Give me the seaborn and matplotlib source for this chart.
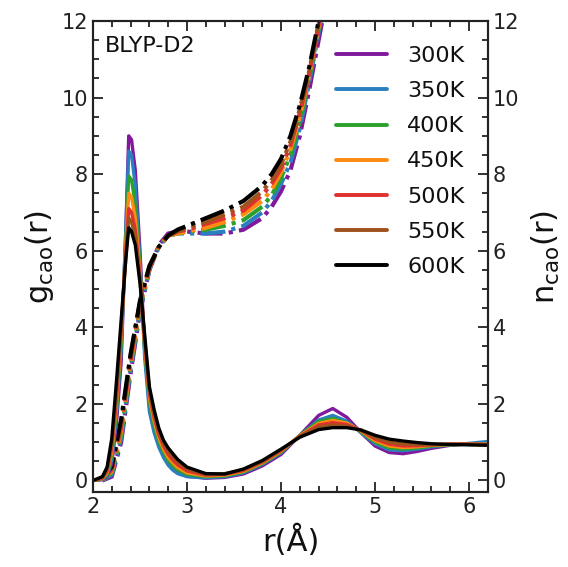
import numpy as np
import pandas as pd
import matplotlib
matplotlib.use("Agg")
import matplotlib.pyplot as plt
from matplotlib.ticker import MultipleLocator
import seaborn as sns

temps = ["300K", "350K", "400K", "450K", "500K", "550K", "600K"]
colors = ["#80199b", "#2a7fc0", "#2ca02c", "#ff8c10", "#e03030", "#a0521d", "#000000"]

r_g = [2.00, 2.10, 2.15, 2.20, 2.25, 2.30, 2.35, 2.38, 2.41, 2.45, 2.50, 2.55, 2.60,
       2.65, 2.70, 2.75, 2.80, 2.85, 2.90, 3.00, 3.20, 3.40, 3.60, 3.80, 4.00, 4.20,
       4.40, 4.55, 4.70, 4.85, 5.00, 5.15, 5.30, 5.45, 5.60, 5.80, 6.00, 6.20]

g_300 = [0.00, 0.02, 0.10, 0.45, 1.50, 3.10, 6.60, 9.00, 8.90, 8.10, 6.00, 3.40, 1.95,
         1.35, 0.97, 0.68, 0.46, 0.31, 0.21, 0.11, 0.06, 0.08, 0.17, 0.38, 0.68, 1.18,
         1.70, 1.88, 1.65, 1.25, 0.90, 0.73, 0.70, 0.76, 0.84, 0.92, 0.96, 0.96]
g_350 = [0.00, 0.03, 0.13, 0.55, 1.70, 3.40, 6.60, 8.60, 8.50, 7.70, 5.70, 3.20, 1.80,
         1.25, 0.87, 0.60, 0.40, 0.27, 0.18, 0.10, 0.07, 0.10, 0.20, 0.42, 0.72, 1.18,
         1.58, 1.70, 1.55, 1.25, 0.96, 0.80, 0.78, 0.82, 0.88, 0.93, 0.97, 1.02]
g_400 = [0.00, 0.04, 0.16, 0.65, 1.85, 3.60, 6.30, 7.95, 7.85, 7.20, 5.60, 3.40, 2.05,
         1.45, 1.02, 0.74, 0.52, 0.38, 0.28, 0.16, 0.10, 0.12, 0.22, 0.44, 0.74, 1.18,
         1.54, 1.62, 1.50, 1.27, 1.00, 0.85, 0.82, 0.85, 0.90, 0.93, 0.95, 0.95]
g_450 = [0.00, 0.05, 0.20, 0.75, 2.00, 3.80, 6.20, 7.50, 7.40, 6.85, 5.45, 3.50, 2.15,
         1.55, 1.12, 0.82, 0.60, 0.46, 0.34, 0.20, 0.12, 0.14, 0.24, 0.46, 0.76, 1.17,
         1.49, 1.57, 1.50, 1.29, 1.04, 0.90, 0.86, 0.88, 0.92, 0.94, 0.95, 0.95]
g_500 = [0.00, 0.06, 0.24, 0.85, 2.15, 3.90, 6.00, 7.10, 7.00, 6.55, 5.35, 3.60, 2.25,
         1.65, 1.20, 0.90, 0.68, 0.53, 0.41, 0.25, 0.14, 0.16, 0.26, 0.48, 0.78, 1.16,
         1.45, 1.51, 1.46, 1.31, 1.08, 0.95, 0.90, 0.91, 0.93, 0.95, 0.95, 0.94]
g_550 = [0.00, 0.08, 0.28, 0.95, 2.30, 4.00, 5.85, 6.85, 6.75, 6.35, 5.25, 3.70, 2.35,
         1.75, 1.29, 0.98, 0.77, 0.62, 0.48, 0.30, 0.16, 0.18, 0.28, 0.50, 0.80, 1.15,
         1.40, 1.45, 1.42, 1.31, 1.12, 1.00, 0.95, 0.94, 0.94, 0.95, 0.94, 0.93]
g_600 = [0.00, 0.10, 0.35, 1.10, 2.60, 4.20, 5.80, 6.60, 6.50, 6.15, 5.15, 3.80, 2.45,
         1.85, 1.37, 1.05, 0.85, 0.70, 0.55, 0.35, 0.18, 0.17, 0.30, 0.52, 0.82, 1.13,
         1.33, 1.38, 1.38, 1.32, 1.18, 1.08, 1.03, 0.99, 0.96, 0.94, 0.93, 0.92]

r_n = [2.10, 2.20, 2.30, 2.40, 2.50, 2.60, 2.70, 2.80, 2.90, 3.00, 3.20, 3.40, 3.60,
       3.80, 3.90, 4.00, 4.10, 4.20, 4.30, 4.40, 4.50]

n_300 = [0.00, 0.10, 1.00, 2.80, 4.40, 5.50, 6.15, 6.45, 6.50, 6.50, 6.45, 6.45, 6.55,
         6.85, 7.15, 7.55, 8.10, 9.00, 10.20, 11.50, 12.80]
n_350 = [0.00, 0.15, 1.10, 2.90, 4.45, 5.50, 6.10, 6.40, 6.45, 6.45, 6.45, 6.50, 6.65,
         7.00, 7.30, 7.75, 8.30, 9.20, 10.40, 11.70, 13.00]
n_400 = [0.01, 0.20, 1.20, 3.00, 4.50, 5.55, 6.10, 6.40, 6.45, 6.50, 6.55, 6.65, 6.80,
         7.15, 7.45, 7.90, 8.50, 9.35, 10.50, 11.80, 13.00]
n_450 = [0.02, 0.24, 1.30, 3.05, 4.55, 5.55, 6.10, 6.40, 6.45, 6.50, 6.60, 6.75, 6.95,
         7.30, 7.60, 8.05, 8.65, 9.50, 10.60, 11.85, 13.10]
n_500 = [0.03, 0.28, 1.40, 3.15, 4.60, 5.55, 6.10, 6.40, 6.50, 6.55, 6.70, 6.85, 7.05,
         7.45, 7.75, 8.15, 8.75, 9.60, 10.65, 11.90, 13.10]
n_550 = [0.04, 0.32, 1.50, 3.25, 4.65, 5.60, 6.10, 6.40, 6.50, 6.60, 6.75, 6.95, 7.15,
         7.55, 7.85, 8.25, 8.85, 9.70, 10.70, 11.95, 13.20]
n_600 = [0.05, 0.36, 1.60, 3.30, 4.70, 5.60, 6.10, 6.40, 6.55, 6.65, 6.85, 7.05, 7.30,
         7.70, 8.00, 8.40, 9.00, 9.80, 10.80, 12.00, 13.20]

g_all = [g_300, g_350, g_400, g_450, g_500, g_550, g_600]
n_all = [n_300, n_350, n_400, n_450, n_500, n_550, n_600]

df_g = pd.concat([pd.DataFrame({"r": r_g, "val": v, "T": t}) for t, v in zip(temps, g_all)])
df_n = pd.concat([pd.DataFrame({"r": r_n, "val": v, "T": t}) for t, v in zip(temps, n_all)])

sns.set_style("ticks")
plt.rcParams["font.family"] = ["DejaVu Sans"]
plt.rcParams["text.color"] = "#111111"
plt.rcParams["axes.labelcolor"] = "#111111"
plt.rcParams["xtick.color"] = "#222222"
plt.rcParams["ytick.color"] = "#222222"

fig = plt.figure(figsize=(5.68, 5.67), dpi=100)
ax = fig.add_axes([0.1637, 0.1323, 0.6953, 0.8307])
ax2 = ax.twinx()

pal = dict(zip(temps, colors))
sns.lineplot(data=df_n, x="r", y="val", hue="T", palette=pal, ax=ax2,
             linewidth=3.0, legend=False, sort=True)
for ln in ax2.lines:
    ln.set_linestyle((0, (6, 1.5, 1, 1.5)))
sns.lineplot(data=df_g, x="r", y="val", hue="T", palette=pal, ax=ax,
             linewidth=2.4, sort=True)
ax.set_zorder(ax2.get_zorder() + 1)
ax.patch.set_visible(False)

for a in (ax, ax2):
    a.set_xlim(2, 6.2)
    a.set_ylim(-0.3, 12)
    a.yaxis.set_major_locator(MultipleLocator(2))
    a.yaxis.set_minor_locator(MultipleLocator(0.5))
    a.xaxis.set_major_locator(MultipleLocator(1))
    a.xaxis.set_minor_locator(MultipleLocator(0.2))
    for s in a.spines.values():
        s.set_linewidth(1.5)
        s.set_color("#222222")

ax.tick_params(which="both", direction="in", top=True, labelsize=15, width=1.3)
ax.tick_params(which="major", length=7)
ax.tick_params(which="minor", length=4)
ax2.tick_params(which="both", direction="in", labelsize=15, width=1.3)
ax2.tick_params(which="major", length=7)
ax2.tick_params(which="minor", length=4)

ax.set_xlabel("r(Å)", fontsize=22, labelpad=6)
ax.set_ylabel(r"g$_{\mathrm{cao}}$(r)", fontsize=22, labelpad=4)
ax2.set_ylabel(r"n$_{\mathrm{cao}}$(r)", fontsize=22, labelpad=8)

ax.text(0.03, 0.968, "BLYP-D2", transform=ax.transAxes, fontsize=16, va="top", ha="left")

leg = ax.legend(loc="upper right", bbox_to_anchor=(0.975, 0.975), frameon=False,
                fontsize=16, handlelength=2.3, handletextpad=0.9, labelspacing=0.68,
                borderaxespad=0.2)
for h in leg.get_lines():
    h.set_linewidth(2.8)

fig.savefig("out.png", dpi=100)
